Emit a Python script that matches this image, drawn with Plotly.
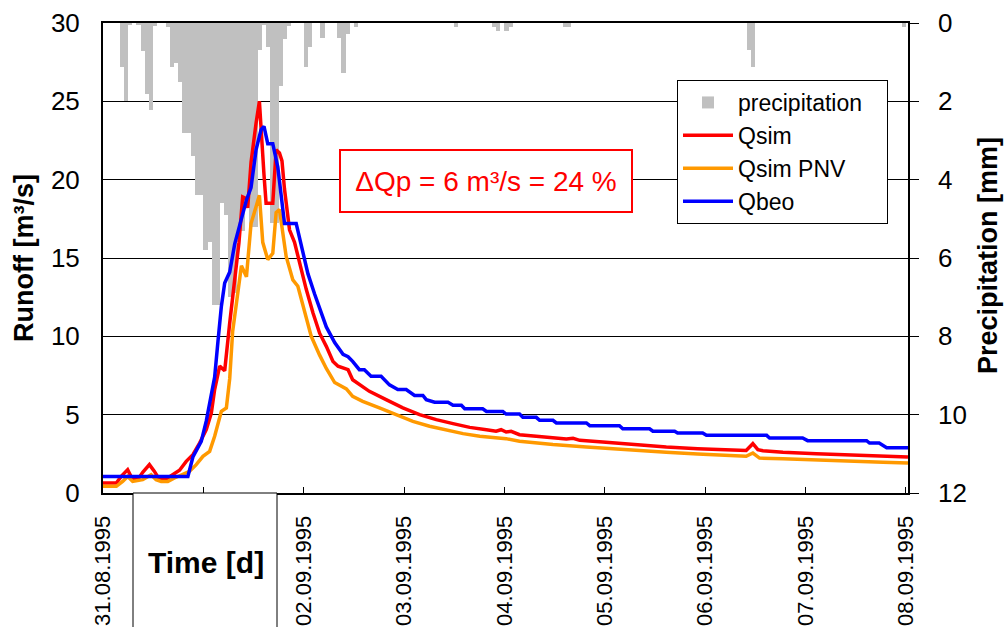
import pandas as pd
import plotly.graph_objects as go

# ---------------- data (hours after 31.08.1995 00:00) ----------------
precip_hours = [4, 5, 6, 8, 9, 10, 11, 12, 15, 16, 17, 18, 19, 20, 21, 22, 23, 24, 25, 26, 27,
                28, 29, 30, 31, 32, 33, 34, 35, 36, 37, 38, 39, 40, 41, 42, 43, 44, 48, 49, 52,
                56, 57, 58, 60, 84, 93, 94, 96, 97, 110, 111, 154, 155, 191]
precip_mm = [1.12, 2.0, 0.05, 0.06, 0.71, 1.81, 2.22, 0.07, 0.1, 1.12, 1.03, 1.5, 2.8, 2.8, 3.4,
             4.4, 4.4, 5.8, 5.6, 7.2, 7.2, 4.6, 4.9, 7.0, 6.9, 5.5, 5.3, 4.5, 5.2, 5.2, 0.7, 0.05,
             0.6, 5.1, 5.1, 1.6, 0.4, 0.07, 1.12, 0.6, 0.39, 0.39, 1.28, 0.29, 0.09, 0.09, 0.09,
             0.2, 0.2, 0.09, 0.09, 0.09, 0.69, 1.12, 0.09]

qsim_t = [0, 3.2, 4.35, 5.9, 7.1, 8.3, 9.5, 11.1, 12.3, 13.5, 15.1, 16.7, 18.3, 19.9, 21.5, 23.1,
          24.7, 25.9, 26.7, 27.9, 29.1, 30.3, 31.5, 32.5, 33.4, 34.2, 34.6, 35.4, 36.6, 37.4, 38.5,
          39.0, 40.6, 41.4, 42.2, 42.8, 43.4, 44.6, 45.8, 47.0, 48.6, 50.2, 51.8, 53.4, 55.0, 56.2,
          57.8, 58.6, 59.7, 61.3, 63.7, 67.7, 71.7, 75.7, 79.7, 83.7, 87.7, 91.7, 94.0, 95.2, 96.4,
          97.6, 99.6, 103.6, 107.6, 110.8, 112.4, 114.0, 119.5, 126.7, 134.7, 142.2, 150.6, 153.8,
          155.4, 156.6, 157.8, 162.6, 170.6, 178.5, 186.5, 192.5]
qsim_q = [0.64, 0.64, 1.06, 1.49, 0.85, 0.85, 1.32, 1.81, 1.38, 0.85, 0.89, 1.17, 1.45, 2.02, 2.45,
          3.19, 4.04, 5.1, 6.6, 8.1, 7.8, 10.85, 13.8, 15.96, 18.9, 18.8, 18.2, 21.1, 23.6, 25.0,
          20.3, 18.5, 18.5, 21.9, 21.7, 21.2, 19.4, 16.8, 16.0, 14.7, 13.0, 11.5, 10.2, 9.36, 8.4,
          8.09, 7.98, 7.87, 7.23, 6.91, 6.49, 5.96, 5.43, 5.0, 4.68, 4.43, 4.19, 4.04, 3.94, 4.04,
          3.89, 3.94, 3.72, 3.62, 3.51, 3.45, 3.49, 3.36, 3.26, 3.09, 2.94, 2.83, 2.72, 2.72, 3.15,
          2.77, 2.70, 2.6, 2.51, 2.43, 2.34, 2.30]

pnv_t = [0, 3.2, 4.7, 5.9, 7.1, 9.5, 11.5, 12.7, 13.9, 15.5, 17.1, 18.7, 20.7, 22.3, 23.9, 25.5,
         26.7, 28.3, 29.5, 30.3, 31.0, 31.9, 33.1, 34.3, 35.4, 37.4, 38.2, 39.4, 40.6, 41.4, 42.2,
         43.8, 45.4, 46.6, 48.2, 49.8, 51.8, 53.4, 55.4, 57.0, 58.2, 59.7, 62.1, 66.1, 70.1, 74.1,
         78.1, 82.1, 86.1, 90.1, 94.0, 96.4, 99.6, 107.6, 115.6, 123.5, 126.7, 134.7, 142.2, 150.6,
         153.8, 155.4, 157.0, 162.6, 170.6, 178.5, 186.5, 192.5]
pnv_q = [0.43, 0.43, 0.74, 1.06, 0.74, 0.85, 1.17, 0.85, 0.74, 0.74, 0.96, 1.17, 1.38, 1.81, 2.34,
         2.66, 3.62, 5.21, 5.43, 7.3, 10.3, 12.1, 14.5, 13.8, 17.2, 19.0, 16.0, 14.9, 15.3, 17.9,
         18.1, 15.1, 13.6, 13.2, 11.7, 10.0, 8.8, 7.95, 7.05, 6.85, 6.64, 6.17, 5.85, 5.43, 5.0,
         4.57, 4.26, 4.0, 3.79, 3.62, 3.51, 3.47, 3.3, 3.09, 2.94, 2.8, 2.70, 2.6, 2.49, 2.38, 2.34,
         2.55, 2.23, 2.19, 2.13, 2.04, 1.96, 1.91]

qbeo_t = [0, 20.3, 21.5, 23.5, 24.7, 25.9, 26.7, 27.5, 28.3, 29.1, 30.3, 31.5, 33.1, 34.3, 35.4,
          36.6, 37.8, 38.5, 39.4, 40.6, 41.8, 43.4, 46.2, 47.4, 49.0, 50.6, 52.0, 53.4, 55.4, 57.4,
          58.6, 59.7, 61.3, 62.5, 64.1, 66.5, 68.5, 70.5, 72.5, 74.5, 76.5, 77.3, 79.3, 82.5, 83.7,
          85.7, 86.5, 90.8, 91.7, 95.6, 96.4, 99.6, 100.4, 103.6, 104.4, 107.6, 108.4, 115.6, 116.4,
          123.5, 124.3, 130.7, 131.5, 136.7, 137.4, 143.4, 144.3, 158.7, 159.4, 167.3, 168.5, 182.6,
          183.3, 185.6, 187.4, 192.5]
qbeo_q = [1.05, 1.05, 2.3, 3.3, 4.6, 6.25, 7.4, 9.7, 11.9, 13.4, 14.1, 15.9, 17.4, 18.7, 19.5,
          21.9, 23.2, 23.4, 22.3, 22.3, 20.8, 17.2, 17.2, 15.9, 14.0, 12.7, 11.6, 10.6, 9.6, 8.85,
          8.7, 8.4, 7.87, 7.87, 7.45, 7.45, 6.9, 6.6, 6.6, 6.23, 6.23, 5.96, 5.79, 5.79, 5.6, 5.6,
          5.38, 5.38, 5.21, 5.21, 5.04, 5.04, 4.83, 4.83, 4.64, 4.64, 4.47, 4.47, 4.3, 4.3, 4.1,
          4.1, 3.94, 3.94, 3.83, 3.83, 3.68, 3.68, 3.51, 3.51, 3.34, 3.34, 3.19, 3.19, 2.89, 2.89]

day_ticks = ["31.08.1995", "", "02.09.1995", "03.09.1995", "04.09.1995",
             "05.09.1995", "06.09.1995", "07.09.1995", "08.09.1995"]

# ---------------- helpers ----------------
base = pd.Timestamp("1995-08-31 00:00")


def to_time(hours):
    return [base + pd.Timedelta(hours=h) for h in hours]


FONT = "Liberation Sans, Arial, sans-serif"
W, H = 1005, 627
L, R, T, B = 103, 97, 23, 134
PW, PH = W - L - R, H - T - B
PAD = "\u00a0\u00a0\u00a0"  # right padding inside the legend box


def px(x):
    return (x - L) / PW


def py(y):
    return (H - B - y) / PH


fig = go.Figure()

fig.add_trace(go.Bar(
    x=to_time([h + 0.5 for h in precip_hours]), y=precip_mm, width=3600000,
    marker=dict(color="#C0C0C0", line=dict(width=0)), name="precipitation" + PAD,
    yaxis="y", xaxis="x"))

fig.add_trace(go.Scatter(x=to_time(qsim_t), y=qsim_q, mode="lines", name="Qsim",
                         line=dict(color="#FF0000", width=3.5), yaxis="y2"))
fig.add_trace(go.Scatter(x=to_time(pnv_t), y=pnv_q, mode="lines", name="Qsim PNV",
                         line=dict(color="#FF9900", width=3.5), yaxis="y2"))
fig.add_trace(go.Scatter(x=to_time(qbeo_t), y=qbeo_q, mode="lines", name="Qbeo",
                         line=dict(color="#0000FF", width=3.5), yaxis="y2"))

tick_vals = [base + pd.Timedelta(days=d) for d in range(len(day_ticks))]

fig.update_layout(
    width=W, height=H,
    margin=dict(l=L, r=R, t=T, b=B, autoexpand=False),
    paper_bgcolor="white", plot_bgcolor="white",
    font=dict(family=FONT, size=22, color="black"),
    bargap=0,
    showlegend=True,
    legend=dict(x=px(677), y=py(80), xanchor="left", yanchor="top",
                bordercolor="black", borderwidth=1, bgcolor="white",
                font=dict(family=FONT, size=23), tracegroupgap=0,
                itemwidth=50),
    xaxis=dict(type="date", automargin=False,
               range=[base, base + pd.Timedelta(hours=192.5)],
               tickvals=tick_vals, ticktext=day_ticks, tickangle=-90,
               ticks="inside", ticklen=6, tickcolor="black",
               showline=True, linecolor="black", linewidth=2, mirror=True,
               showgrid=False, zeroline=False,
               tickfont=dict(family=FONT, size=22), ticklabelstandoff=12),
    yaxis=dict(side="right", automargin=False, range=[12, 0],
               tickvals=[0, 2, 4, 6, 8, 10, 12],
               ticks="outside", ticklen=9, tickcolor="black",
               showline=True, linecolor="black", linewidth=1.5,
               showgrid=False, zeroline=False,
               tickfont=dict(family=FONT, size=26), ticklabelstandoff=14),
    yaxis2=dict(side="left", overlaying="y", automargin=False, range=[0, 30],
                tickvals=[0, 5, 10, 15, 20, 25, 30],
                ticks="inside", ticklen=6, tickcolor="black",
                showline=True, linecolor="black", linewidth=2,
                showgrid=True, gridcolor="black", gridwidth=1, zeroline=False,
                tickfont=dict(family=FONT, size=26), ticklabelstandoff=16),
)

# Time box covering the first day label
fig.add_shape(type="rect", xref="paper", yref="paper",
              x0=px(133), x1=px(277), y0=-0.31, y1=0,
              line=dict(color="black", width=1), fillcolor="white", layer="above")

fig.add_annotation(xref="paper", yref="paper", x=px(206), y=py(562),
                   xanchor="center", yanchor="middle",
                   text="<b>Time [d]</b>", showarrow=False,
                   font=dict(family=FONT, size=30, color="black"))

fig.add_annotation(xref="paper", yref="paper", x=px(24), y=py(258),
                   xanchor="center", yanchor="middle",
                   text="<b>Runoff [m³/s]</b>", textangle=-90, showarrow=False,
                   font=dict(family=FONT, size=27, color="black"))
fig.add_annotation(xref="paper", yref="paper", x=px(988), y=py(256),
                   xanchor="center", yanchor="middle",
                   text="<b>Precipitation [mm]</b>", textangle=-90, showarrow=False,
                   font=dict(family=FONT, size=27, color="black"))

fig.add_annotation(xref="paper", yref="paper", x=px(486), y=py(181),
                   xanchor="center", yanchor="middle",
                   text="ΔQp = 6 m³/s = 24 %", showarrow=False,
                   font=dict(family=FONT, size=28, color="#FF0000"),
                   bordercolor="#FF0000", borderwidth=2, bgcolor="white",
                   width=288, height=58)

fig.write_html("out.html",
               config={"displayModeBar": False},
               post_script="document.body.style.margin='0px';"
                           "document.body.style.overflow='hidden';")
